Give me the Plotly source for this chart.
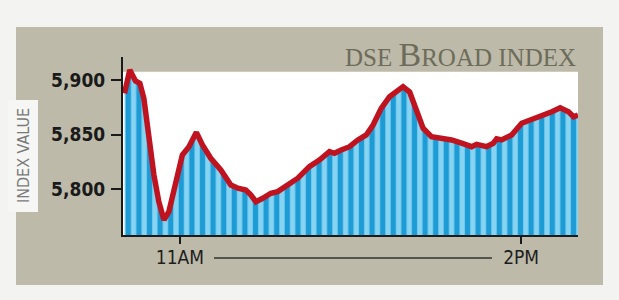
import plotly.graph_objects as go

# minutes after 10:30 and DSE Broad index values
minutes = [0.8, 3.6, 6.6, 8.9, 11.0, 13.7, 16.3, 18.9, 21.6, 24.2, 27.8, 31.3, 34.8, 38.7,
           41.9, 46.3, 51.6, 56.9, 60.6, 64.8, 67.5, 70.1, 73.7, 78.0, 81.6, 86.9, 92.2,
           98.3, 103.6, 108.9, 111.5, 115.1, 119.5, 123.9, 128.3, 131.9, 136.2, 140.6,
           147.7, 151.2, 154.8, 158.3, 162.7, 168.0, 173.3, 178.6, 183.9, 186.5, 191.8,
           195.3, 197.1, 199.7, 205.0, 210.3, 214.7, 220.9, 226.2, 230.6, 235.0, 237.7, 240.0]
index_values = [5887.8, 5909.2, 5899.1, 5897.0, 5883.2, 5846.5, 5812.9, 5788.4, 5771.6,
                5779.2, 5803.7, 5831.2, 5838.8, 5852.0, 5840.4, 5828.2, 5817.5, 5803.7,
                5800.7, 5799.1, 5794.5, 5788.4, 5791.5, 5796.1, 5797.6, 5803.7, 5809.9,
                5820.5, 5826.6, 5834.3, 5832.8, 5835.8, 5838.8, 5845.0, 5849.6, 5858.7,
                5874.0, 5884.7, 5893.9, 5889.0, 5870.9, 5855.7, 5848.0, 5846.5, 5845.0,
                5842.0, 5838.8, 5841.0, 5838.8, 5842.0, 5846.0, 5845.0, 5849.6, 5860.3,
                5863.3, 5866.3, 5870.9, 5874.6, 5870.9, 5866.3, 5867.9]

x_tick_vals = [30, 210]
x_tick_text = ["11AM", "2PM"]
y_tick_vals = [5800, 5850, 5900]
y_tick_text = ["5,800", "5,850", "5,900"]

title_text = "DSE <span style='font-size:34px'>B</span>ROAD INDEX"
y_title = "INDEX VALUE"

NARROW = "Liberation Sans Narrow, DejaVu Sans Condensed, Roboto Condensed, Arial Narrow, sans-serif"
PANEL = "#bdbaa9"
PAGE = "#f3f3f1"

fig = go.Figure()
fig.add_trace(go.Scatter(
    x=minutes, y=index_values, mode="lines",
    line=dict(color="#bf1420", width=5.5),
    fill="tozeroy",
    fillpattern=dict(shape="|", size=10.6, solidity=0.5,
                     fgcolor="#1c9bd5", bgcolor="#86d3f2", fillmode="replace"),
    hoverinfo="skip",
))

# coordinate helpers (plot area: x 123..578 px, y 57..235 px)
def px(xp):
    return (xp - 123) / 455.0

def py(yp):
    return (235 - yp) / 178.0

shapes = [
    # grey panel
    dict(type="rect", xref="paper", yref="paper", x0=px(16), x1=px(603), y0=py(285), y1=py(27),
         fillcolor=PANEL, line=dict(width=0), layer="below"),
    # box behind y-title
    dict(type="rect", xref="paper", yref="paper", x0=px(8), x1=px(38), y0=py(212), y1=py(100),
         fillcolor="#f6f6f4", line=dict(width=0), layer="below"),
    # white plot field
    dict(type="rect", xref="x", yref="y", x0=0, x1=240, y0=5757.8, y1=5907.6,
         fillcolor="white", line=dict(width=0), layer="below"),
    # line between time labels
    dict(type="line", xref="x", yref="paper", x0=48, x1=194.6, y0=py(258), y1=py(258),
         line=dict(color="#333333", width=1.5)),
]

annotations = [
    dict(text=title_text, xref="paper", yref="paper", x=1.0, y=py(55), xanchor="right",
         yanchor="middle", showarrow=False,
         font=dict(family="Liberation Serif, DejaVu Serif, serif", size=25, color="#6d6c5a")),
    dict(text=y_title, xref="paper", yref="paper", x=px(23), y=py(156), xanchor="center",
         yanchor="middle", textangle=-90, showarrow=False,
         font=dict(family=NARROW, size=16, color="#7a7a7a")),
]

fig.update_layout(
    width=619, height=300,
    margin=dict(l=123, r=41, t=57, b=65),
    paper_bgcolor=PAGE, plot_bgcolor="rgba(0,0,0,0)",
    showlegend=False,
    shapes=shapes, annotations=annotations,
    xaxis=dict(range=[0, 240], tickvals=x_tick_vals, ticktext=x_tick_text,
               showgrid=False, zeroline=False, showline=True, linecolor="#1a1a1a", linewidth=2,
               ticks="outside", ticklen=7, tickwidth=1.5, tickcolor="#1a1a1a",
               ticklabelstandoff=-3,
               tickfont=dict(family=NARROW, size=19, color="#1e1e1e")),
    yaxis=dict(range=[5757.8, 5921.1], tickvals=y_tick_vals, ticktext=y_tick_text,
               showgrid=False, zeroline=False, showline=True, linecolor="#1a1a1a", linewidth=2,
               ticks="outside", ticklen=10, tickwidth=1.5, tickcolor="#1a1a1a",
               ticklabelstandoff=2,
               tickfont=dict(family=NARROW, size=19, color="#1a1a1a", weight="bold"),
               ),
)

fig.write_html("out.html")
